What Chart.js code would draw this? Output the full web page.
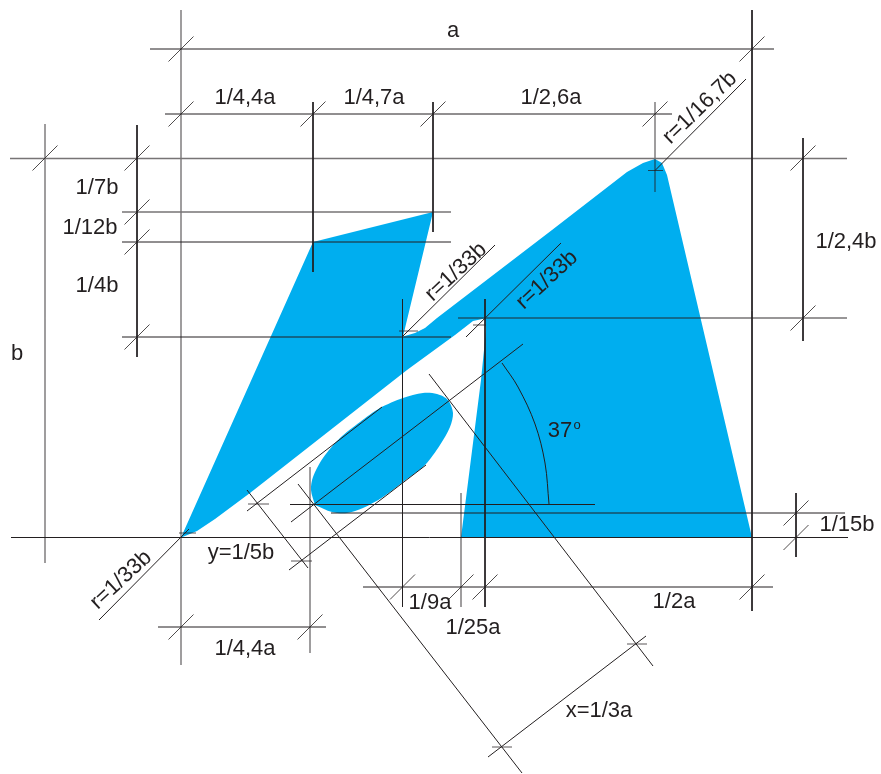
<!DOCTYPE html>
<html><head><meta charset="utf-8">
<style>html,body{margin:0;padding:0;background:#fff}canvas{display:block}</style>
<script src="https://cdn.jsdelivr.net/npm/chart.js@4"></script>
</head><body><canvas id="c" width="881" height="774"></canvas>
<script>
// Outline of the blue figure
const bodyX=[181,313,433,403,415,425,437,552,627,643,655,662,667,752,461,481,484,486,485,473,455,407,250,215,197,185,181];
const bodyY=[537.5,242,212,336.5,333,328,318,230,172,163,159,163,175,537.5,537.5,380,350,330,318.5,321,335,370,493,519,531,536,537.5];
const ellipseX=[315,332,347,363,383,403,425,440,450,453,448,437,423,403,380,360,340,323,313,311,315];
const ellipseY=[505,512,513,508,497,482,465,445,427,413,400,394,393,398,408,422,438,458,477,490,505];
// Angle arc of the 37 degree mark
const arcX=[502,518,535,545,549];
const arcY=[363,387,424,463,504];
// Construction lines as [x1,y1,x2,y2]
const darkLines=[
 [752,10,752,611],[137,125,137,357],[313,102,313,272],[433,102,433,232],[803,138,803,341],
 [402.5,299,402.5,607],[485,299,485,607],[796,493,796,557],
 [150,49,774,49],[165,114,672,114],[122,242,451,242],[122,337,451,337],[11,537.5,848,537.5],
 [331,513,845,513],[290,504.5,595,504.5],[363,587,773,587],[158,627,326,627],
 [655,170.5,746,79],[403,336,495,245],[466,337,561,243],[189,529,99,620],
 [291,522,523,344],[247,511,382,407],[289,570,426,465],[247,490,308,568],
 [298,484,522,773],[429,374,653,666],[488,757,646,636]
];
const greyLines=[
 [181,10,181,665],[45,124,45,563],[655,102,655,192],[461,493,461,607],[310,467,310,653],
 [10,158.5,847,158.5],[122,212,451,212],[458,318,847,318]
];
// Slash marks: the crossing points of the dimension lines
const slashX=[181,752,181,313,433,655,45,137,137,137,137,803,803,796,796,752,485,461,402.5,181,310];
const slashY=[49,49,114,114,114,114,158,158,212,242,337,158,318,513,537.5,587,587,587,587,627,627];
// Short horizontal marks as [x1,y,x2]
const shortMarks=[[648,170.5,663],[399,331,418],[473,325,486],[179,533,196],[248,504,269],[291,561,312],[492,747,512],[627,644,647]];
// Text
const labels=['a','1/4,4a','1/4,7a','1/2,6a','r=1/16,7b','1/2,4b','1/7b','1/12b','1/4b','b','r=1/33b','r=1/33b','37','o','1/15b','y=1/5b','1/9a','1/25a','1/2a','1/4,4a','x=1/3a','r=1/33b'];
const labelX=[453,245,374,551,700,846,97,90,97,17,456,547,560,577,847,241,430,473,674,245,599,121];
const labelY=[31,98,98,98,108,242,188,228,286,354,272,280,431,425,525,553,603,628,602,649,711,580];
const labelAngle=[0,0,0,0,-44,0,0,0,0,0,-43,-43,0,0,0,0,0,0,0,0,0,-43];
const smallLabel=[13];

const pts=(xs,ys)=>xs.map((x,i)=>({x,y:ys[i]}));
const segs=list=>list.flatMap(s=>[{x:s[0],y:s[1]},{x:s[2],y:s[3]},{x:NaN,y:NaN}]);
const slashes=slashX.flatMap((x,i)=>[{x:x-12.5,y:slashY[i]+12.5},{x:x+12.5,y:slashY[i]-12.5},{x:NaN,y:NaN}]);
const shorts=shortMarks.flatMap(s=>[{x:s[0],y:s[1]},{x:s[2],y:s[1]},{x:NaN,y:NaN}]);
const BLUE='#00aeef',INK='#231f20';
const line=(data,color,w,order,tension)=>({data,showLine:true,borderColor:color,borderWidth:w,pointRadius:0,fill:false,order,tension:tension||0,spanGaps:false});

const textPlugin={id:'text',afterDatasetsDraw(chart){
  const c=chart.ctx,sx=chart.scales.x,sy=chart.scales.y;
  c.save();c.fillStyle=INK;c.textAlign='center';c.textBaseline='middle';
  labels.forEach((t,i)=>{
    c.save();
    c.translate(sx.getPixelForValue(labelX[i]),sy.getPixelForValue(labelY[i]));
    c.rotate(labelAngle[i]*Math.PI/180);
    c.font=(smallLabel.includes(i)?13:22)+'px "Liberation Sans"';
    c.fillText(t,0,0);
    c.restore();
  });
  c.restore();
}};

new Chart(document.getElementById('c'),{
 type:'scatter',
 data:{datasets:[
  {data:pts(bodyX,bodyY),showLine:true,fill:'shape',backgroundColor:BLUE,borderWidth:0,borderColor:BLUE,pointRadius:0,order:10},
  {data:pts(ellipseX,ellipseY),showLine:true,fill:'shape',backgroundColor:BLUE,borderWidth:0,borderColor:BLUE,pointRadius:0,order:9,tension:0.3},
  line(segs(greyLines),'rgba(35,31,32,0.62)',1.4,5),
  line(segs(darkLines),INK,1,4),
  line(slashes,INK,0.8,3),
  line(shorts,'rgba(35,31,32,0.75)',1,3),
  line(pts(arcX,arcY),INK,1,3,0.35)
 ]},
 options:{responsive:false,animation:false,devicePixelRatio:1,
  layout:{padding:0},
  plugins:{legend:{display:false},tooltip:{enabled:false}},
  scales:{x:{type:'linear',display:false,min:0,max:881},y:{type:'linear',display:false,min:0,max:774,reverse:true}}
 },
 plugins:[textPlugin]
});
</script></body></html>
